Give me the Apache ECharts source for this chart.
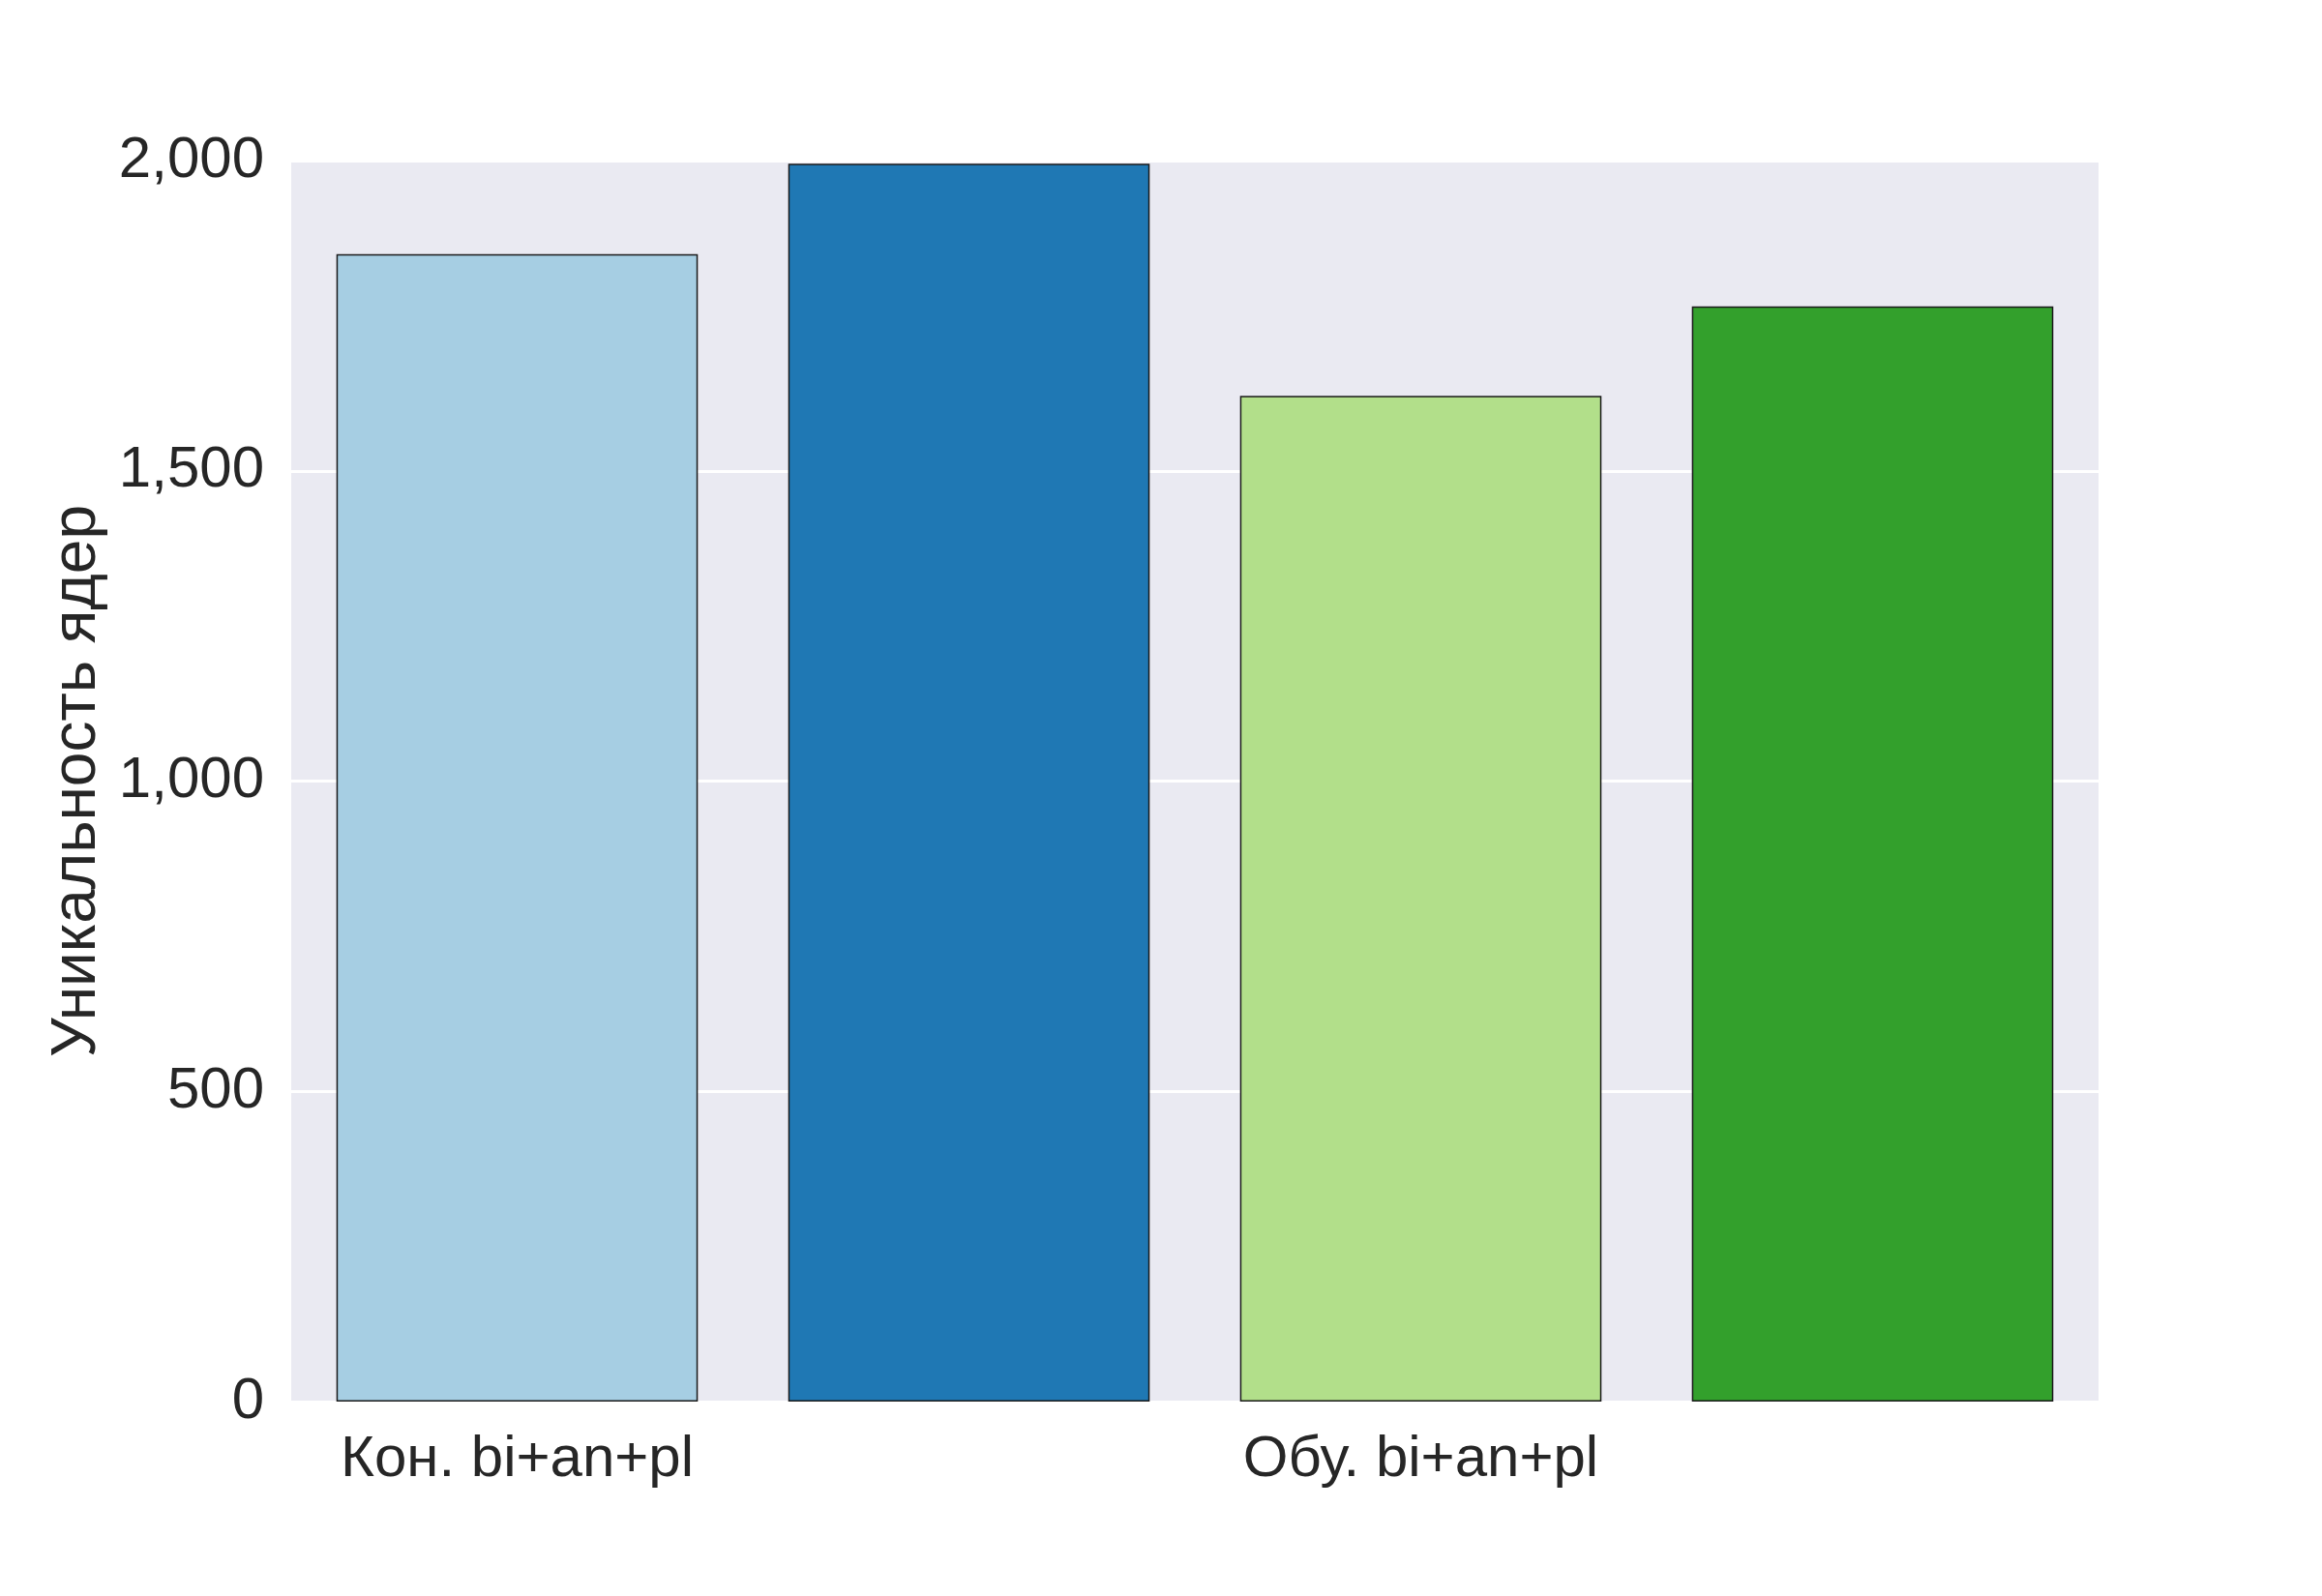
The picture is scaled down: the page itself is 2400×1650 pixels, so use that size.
<!DOCTYPE html>
<html>
<head>
<meta charset="utf-8">
<script src="https://cdn.jsdelivr.net/npm/echarts@6/dist/echarts.min.js"></script>
<style>html,body{margin:0;padding:0;background:#fff}#chart{width:2400px;height:1650px}</style>
</head>
<body>
<div id="chart"></div>
<script>
var categories = ['Кон. bi+an+pl', 'Конт. mr+an+pl', 'Обу. bi+an+pl', 'Обу. mr+an+pl'];
var values = [1849, 1995, 1621, 1765];
var colors = ['#a6cee3', '#1f78b4', '#b2df8a', '#33a02c'];

var chart = echarts.init(document.getElementById('chart'));
chart.setOption({
  backgroundColor: '#fff',
  textStyle: { fontFamily: 'Liberation Sans, Arial, sans-serif' },
  grid: { left: 301, right: 231, top: 166, bottom: 201, show: true, backgroundColor: '#eaeaf2', borderWidth: 0 },
  xAxis: {
    type: 'category',
    data: categories,
    axisLine: { show: false },
    axisTick: { show: false },
    axisLabel: { color: '#262626', fontSize: 60, margin: 30 }
  },
  yAxis: {
    type: 'value',
    min: 0, max: 2000, interval: 500,
    name: 'Уникальность ядер',
    nameLocation: 'middle',
    nameGap: 165,
    nameTextStyle: { color: '#262626', fontSize: 64 },
    axisLine: { show: false },
    axisTick: { show: false },
    axisLabel: { color: '#262626', fontSize: 60, margin: 28 },
    splitLine: { lineStyle: { color: '#ffffff', width: 3 } }
  },
  series: [{
    type: 'bar',
    data: values.map(function (v, i) {
      return { value: v, itemStyle: { color: colors[i] } };
    }),
    barWidth: '80%',
    itemStyle: { borderColor: '#1a1a1a', borderWidth: 1.5 }
  }]
});
</script>
</body>
</html>
